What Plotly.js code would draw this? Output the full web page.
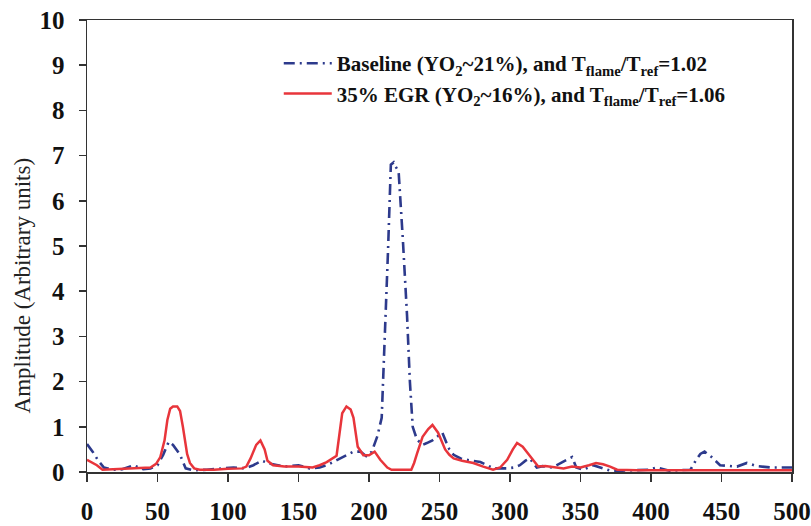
<!DOCTYPE html>
<html>
<head>
<meta charset="utf-8">
<script src="https://cdn.plot.ly/plotly-3.0.1.min.js"></script>
<style>html,body{margin:0;padding:0;background:#fff;}#chart{width:811px;height:526px;}</style>
</head>
<body>
<div id="chart"></div>
<script>
// Baseline (YO2~21%) series
const baselineX = [0,4,8,12,18,25,33,40,45,50,54,58,61,66,70,75,85,95,104,112,118,124,130,140,150,158,165,170,179,189,194,198,202,206,209,211,213.5,215.5,217.5,219,221,224,227,229,231,234,238,241,245,250,252,255,257,260,265,269,274,279,284,288,293,298,303,307,311,314,319,323,330,338,344,347,352,359,366,371,380,390,398,404,413,420,428,432,435,438,443,449,455,461,468,475,485,492,500];
const baselineY = [0.62,0.45,0.25,0.1,0.05,0.06,0.15,0.06,0.08,0.15,0.38,0.67,0.6,0.38,0.08,0.04,0.05,0.07,0.1,0.08,0.15,0.25,0.18,0.12,0.15,0.08,0.1,0.15,0.3,0.45,0.45,0.35,0.45,0.8,1.2,2.7,4.9,6.8,6.85,6.75,6.65,5.15,3.45,2.0,1.0,0.72,0.6,0.64,0.7,0.82,0.87,0.64,0.5,0.38,0.3,0.27,0.24,0.22,0.15,0.08,0.08,0.08,0.1,0.15,0.25,0.3,0.1,0.13,0.1,0.23,0.33,0.1,0.05,0.15,0.07,0.03,0.03,0.04,0.05,0.1,0.03,0.04,0.05,0.27,0.4,0.45,0.33,0.15,0.13,0.12,0.2,0.13,0.1,0.1,0.1];

// 35% EGR (YO2~16%) series
const egrX = [0,4,7,11,20,30,40,45,49,52,55,57,59,61,64,66,68,69.5,71,73,76,80,90,100,110,113,116,120,123,126,128,132,140,150,160,165,170,177,179,181,184,187,189,192,196,200,204,208,213,216,230,232,234,238,242,245,249,254,257,260,266,274,281,288,293,298,302,305,309,313,316,320,325,332,338,344,350,356,361,366,371,376,390,420,450,480,500];
const egrY = [0.27,0.2,0.15,0.05,0.06,0.08,0.08,0.1,0.18,0.33,0.7,1.15,1.4,1.45,1.45,1.35,1.0,0.7,0.4,0.2,0.08,0.05,0.05,0.07,0.08,0.12,0.3,0.6,0.7,0.5,0.25,0.15,0.12,0.12,0.1,0.15,0.22,0.36,0.8,1.3,1.45,1.38,1.2,0.56,0.37,0.37,0.45,0.27,0.1,0.05,0.05,0.2,0.4,0.78,0.95,1.04,0.87,0.5,0.38,0.3,0.25,0.2,0.12,0.05,0.1,0.27,0.5,0.64,0.56,0.4,0.27,0.12,0.13,0.1,0.08,0.12,0.1,0.15,0.2,0.17,0.12,0.05,0.04,0.04,0.04,0.04,0.04];

const xTicks = [0,50,100,150,200,250,300,350,400,450,500];
const yTicks = [0,1,2,3,4,5,6,7,8,9,10];

const serif = "'Liberation Serif', 'Times New Roman', serif";

const traces = [
  {
    x: baselineX, y: baselineY, type: 'scatter', mode: 'lines',
    name: 'Baseline (YO<sub>2</sub>~21%), and T<sub>flame</sub>/T<sub>ref</sub>=1.02',
    line: {color: '#2d3a8c', width: 2.6, dash: '11px,5px,2px,5px'}
  },
  {
    x: egrX, y: egrY, type: 'scatter', mode: 'lines',
    name: '35% EGR (YO<sub>2</sub>~16%), and T<sub>flame</sub>/T<sub>ref</sub>=1.06',
    line: {color: '#e8353b', width: 2.5}
  }
];

const layout = {
  width: 811, height: 526,
  margin: {l: 87, r: 19, t: 20, b: 54},
  paper_bgcolor: '#fff', plot_bgcolor: '#fff',
  showlegend: true,
  legend: {
    x: 0.272, y: 0.949, xanchor: 'left', yanchor: 'top',
    bgcolor: 'rgba(0,0,0,0)', borderwidth: 0,
    itemwidth: 48,
    font: {family: serif, size: 21, color: '#111', weight: 'bold'},
    tracegroupgap: 0
  },
  xaxis: {
    range: [0, 500], tickvals: xTicks, ticktext: xTicks.map(String),
    showgrid: false, zeroline: false,
    showline: true, linecolor: '#333', linewidth: 1.5, mirror: true,
    ticks: 'outside', ticklen: 8, tickwidth: 1.5, tickcolor: '#333',
    ticklabelstandoff: 8,
    tickfont: {family: serif, size: 25, color: '#111', weight: 'bold'},
    fixedrange: true
  },
  yaxis: {
    range: [0, 10], tickvals: yTicks, ticktext: yTicks.map(String),
    showgrid: false, zeroline: false,
    showline: true, linecolor: '#333', linewidth: 1.5, mirror: true,
    ticks: 'outside', ticklen: 7, tickwidth: 1.5, tickcolor: '#333',
    ticklabelstandoff: 9,
    tickfont: {family: serif, size: 25, color: '#111', weight: 'bold'},
    fixedrange: true
  },
  annotations: [{
    text: 'Amplitude (Arbitrary units)',
    xref: 'paper', yref: 'paper', x: -0.092, y: 0.413,
    xanchor: 'center', yanchor: 'middle', textangle: -90, showarrow: false,
    font: {family: serif, size: 23, color: '#222'}
  }]
};

Plotly.newPlot('chart', traces, layout, {displayModeBar: false, staticPlot: true});
</script>
</body>
</html>
